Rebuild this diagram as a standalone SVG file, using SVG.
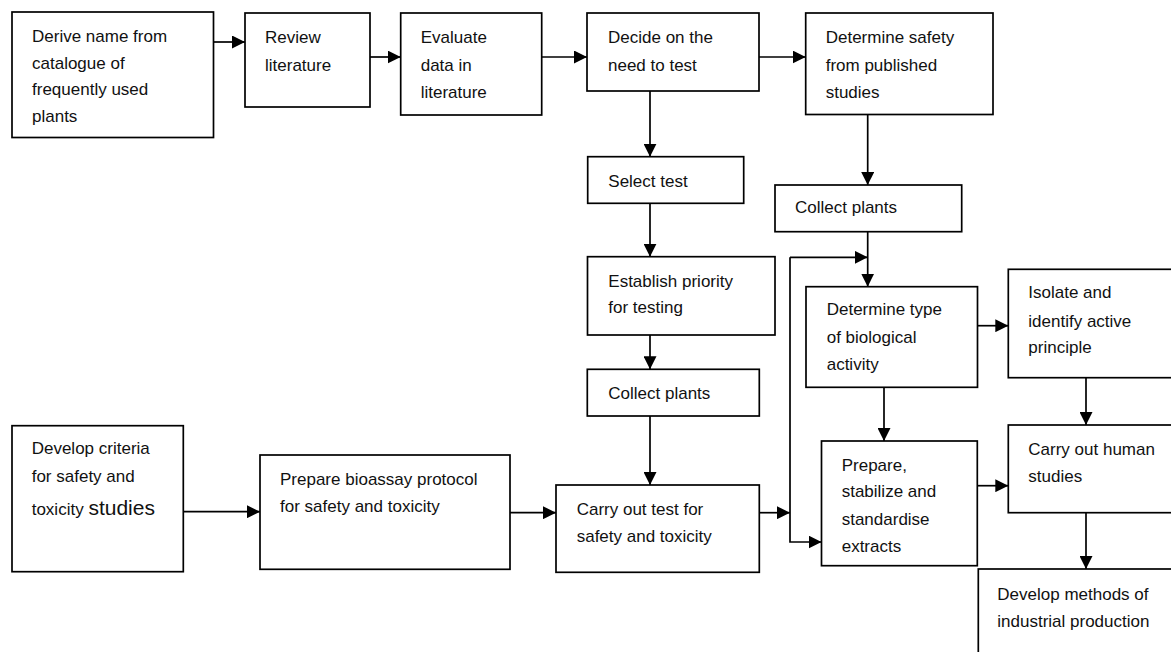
<svg xmlns="http://www.w3.org/2000/svg" width="1171" height="652" viewBox="0 0 1171 652">
<style>
rect.box{fill:#fff;stroke:#000;stroke-width:1.7}
text{font-family:"Liberation Sans",Arial,sans-serif;font-size:17px;fill:#111}
.big{font-size:21px}
.c{fill:none;stroke:#000;stroke-width:1.7}
</style>
<defs>
<marker id="ah" markerUnits="userSpaceOnUse" markerWidth="14" markerHeight="13" refX="13" refY="6.5" orient="auto">
<path d="M0,0 L13,6.5 L0,13 z" fill="#000"/>
</marker>
</defs>
<rect width="1171" height="652" fill="#fff"/>
<g id="connectors">
<path class="c" d="M213.5 42 H245" marker-end="url(#ah)"/>
<path class="c" d="M370 57 H400.7" marker-end="url(#ah)"/>
<path class="c" d="M541.7 57 H587" marker-end="url(#ah)"/>
<path class="c" d="M759 57 H805.7" marker-end="url(#ah)"/>
<path class="c" d="M650 91 V156.7" marker-end="url(#ah)"/>
<path class="c" d="M650 203.3 V256.7" marker-end="url(#ah)"/>
<path class="c" d="M650 335 V369.3" marker-end="url(#ah)"/>
<path class="c" d="M650 416 V485" marker-end="url(#ah)"/>
<path class="c" d="M867.7 114.5 V185" marker-end="url(#ah)"/>
<path class="c" d="M867.7 231.7 V286.7" marker-end="url(#ah)"/>
<path class="c" d="M183.3 511.7 H260" marker-end="url(#ah)"/>
<path class="c" d="M510 512.7 H556" marker-end="url(#ah)"/>
<path class="c" d="M759.3 512.7 H790" marker-end="url(#ah)"/>
<path class="c" d="M790 257.3 H867.7" marker-end="url(#ah)"/>
<path class="c" d="M790 257.3 V542 H821.5" marker-end="url(#ah)"/>
<path class="c" d="M977.5 325.7 H1008.3" marker-end="url(#ah)"/>
<path class="c" d="M884 387.3 V441" marker-end="url(#ah)"/>
<path class="c" d="M977.3 485.7 H1008.3" marker-end="url(#ah)"/>
<path class="c" d="M1086 377.7 V425" marker-end="url(#ah)"/>
<path class="c" d="M1086 512.7 V569" marker-end="url(#ah)"/>
</g>
<g id="n1"><rect class="box" x="12" y="12" width="201.5" height="125.5"/>
<text x="32" y="42">Derive name from</text><text x="32" y="68.5">catalogue of</text><text x="32" y="95">frequently used</text><text x="32" y="122">plants</text></g>
<g id="n2"><rect class="box" x="245" y="13" width="125" height="94"/>
<text x="265" y="43">Review</text><text x="265" y="71">literature</text></g>
<g id="n3"><rect class="box" x="400.7" y="13" width="141" height="102"/>
<text x="420.7" y="43">Evaluate</text><text x="420.7" y="71">data in</text><text x="420.7" y="98">literature</text></g>
<g id="n4"><rect class="box" x="587" y="13" width="172" height="78"/>
<text x="608" y="43">Decide on the</text><text x="608" y="71">need to test</text></g>
<g id="n5"><rect class="box" x="805.7" y="13" width="187.3" height="101.5"/>
<text x="825.7" y="43">Determine safety</text><text x="825.7" y="71">from published</text><text x="825.7" y="98">studies</text></g>
<g id="n6"><rect class="box" x="587.7" y="156.7" width="156" height="46.6"/>
<text x="608.3" y="186.7">Select test</text></g>
<g id="n7"><rect class="box" x="587.5" y="256.7" width="187.5" height="78.3"/>
<text x="608.3" y="286.7">Establish priority</text><text x="608.3" y="313.3">for testing</text></g>
<g id="n8"><rect class="box" x="775" y="185" width="186.7" height="46.7"/>
<text x="795" y="213.3">Collect plants</text></g>
<g id="n9"><rect class="box" x="587.3" y="369.3" width="172" height="46.7"/>
<text x="608.3" y="399.3">Collect plants</text></g>
<g id="n10"><rect class="box" x="12" y="425.7" width="171.3" height="146"/>
<text x="31.7" y="454.3">Develop criteria</text><text x="31.7" y="481.7">for safety and</text><text x="31.7" y="515">toxicity <tspan class="big">studies</tspan></text></g>
<g id="n11"><rect class="box" x="260" y="455" width="250" height="114.3"/>
<text x="280" y="485">Prepare bioassay protocol</text><text x="280" y="511.7">for safety and toxicity</text></g>
<g id="n12"><rect class="box" x="556" y="485" width="203.3" height="87.3"/>
<text x="576.7" y="515">Carry out test for</text><text x="576.7" y="541.7">safety and toxicity</text></g>
<g id="n13"><rect class="box" x="806" y="286.7" width="171.5" height="100.6"/>
<text x="826.7" y="315">Determine type</text><text x="826.7" y="343.3">of biological</text><text x="826.7" y="370">activity</text></g>
<g id="n14"><rect class="box" x="1008.3" y="269.3" width="175" height="108.4"/>
<text x="1028.3" y="298.3">Isolate and</text><text x="1028.3" y="326.7">identify active</text><text x="1028.3" y="353.3">principle</text></g>
<g id="n15"><rect class="box" x="821.5" y="441" width="155.8" height="124.7"/>
<text x="841.7" y="470.7">Prepare,</text><text x="841.7" y="497.3">stabilize and</text><text x="841.7" y="525">standardise</text><text x="841.7" y="551.7">extracts</text></g>
<g id="n16"><rect class="box" x="1008.3" y="425" width="175" height="87.7"/>
<text x="1028.3" y="455">Carry out human</text><text x="1028.3" y="481.7">studies</text></g>
<g id="n17"><rect class="box" x="978.3" y="569" width="205" height="95"/>
<text x="997.3" y="600">Develop methods of</text><text x="997.3" y="626.7">industrial production</text></g>
</svg>
